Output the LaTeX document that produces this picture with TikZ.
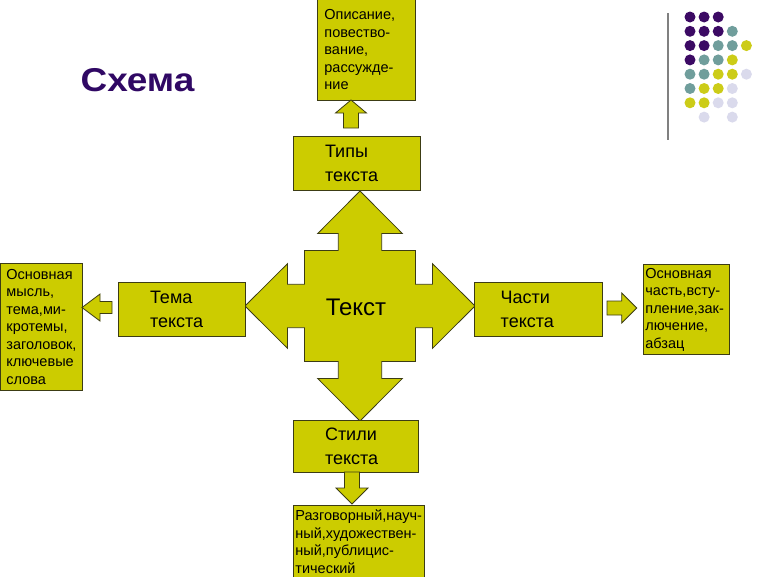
\documentclass[tikz,border=0pt]{standalone}
\usepackage{fontspec}
\setmainfont{Liberation Sans}
\usepackage{tikz}
\usepackage{graphicx}
\lefthyphenmin=62
\definecolor{boxolive}{RGB}{204,204,0}
\definecolor{edgedark}{RGB}{60,60,20}
\definecolor{titlepurple}{RGB}{48,8,100}
\definecolor{dotpurple}{RGB}{60,10,100}
\definecolor{dotteal}{RGB}{112,158,156}
\definecolor{dotyellow}{RGB}{204,204,24}
\definecolor{dotlilac}{RGB}{218,218,236}
\definecolor{rulegray}{RGB}{128,128,128}

% block arrow: tip, angle, length, head length, shaft half, head half
\newcommand{\blockarrow}[6]{%
  \draw[arrowbody, shift={#1}, rotate=#2]
    (0,0) -- (-#4,#6) -- (-#4,#5) -- (-#3,#5) -- (-#3,-#5)
    -- (-#4,-#5) -- (-#4,-#6) -- cycle;}

\begin{document}
\begin{tikzpicture}[
  x=1pt, y=-1pt,
  arrowbody/.style={draw=edgedark, fill=boxolive, line width=0.8pt, line join=miter},
  bigbox/.style={draw=edgedark, fill=boxolive, line width=0.8pt,
                 minimum height=54pt, align=left,
                 font=\fontsize{18}{24}\selectfont},
  smallbox/.style={draw=edgedark, fill=boxolive, line width=0.8pt,
                   anchor=north west, align=left, inner ysep=1pt,
                   font=\fontsize{14.5}{17.5}\selectfont},
]
\useasboundingbox (0,0) rectangle (768,576);

% -------------------------------------------------------------------------
% Title and dot ornament
% -------------------------------------------------------------------------
\node[font=\fontsize{33}{38}\selectfont\bfseries, text=titlepurple]
  (title) at (137.5,80) {\scalebox{1.12}[1]{Схема}};

\draw[rulegray, line width=1.6pt] (668,13) -- (668,140);
\foreach \c/\r/\col in {0/0/dotpurple, 1/0/dotpurple, 2/0/dotpurple,
    0/1/dotpurple, 1/1/dotpurple, 2/1/dotpurple, 3/1/dotteal,
    0/2/dotpurple, 1/2/dotpurple, 2/2/dotteal, 3/2/dotteal, 4/2/dotyellow,
    0/3/dotpurple, 1/3/dotteal, 2/3/dotteal, 3/3/dotyellow,
    0/4/dotteal, 1/4/dotteal, 2/4/dotyellow, 3/4/dotyellow, 4/4/dotlilac,
    0/5/dotteal, 1/5/dotyellow, 2/5/dotyellow, 3/5/dotlilac,
    0/6/dotyellow, 1/6/dotyellow, 2/6/dotlilac, 3/6/dotlilac,
    1/7/dotlilac, 3/7/dotlilac}
  \fill[\col] (690+14.1*\c, 17+14.3*\r) circle (5.5pt);

% -------------------------------------------------------------------------
% Central cross
% -------------------------------------------------------------------------
\draw[arrowbody, shift={(360,306)}]
  (0,-115) -- (42.3,-72.5) -- (21.7,-72.5) -- (21.7,-55.5) -- (55.5,-55.5)
  -- (55.5,-21.7) -- (72.5,-21.7) -- (72.5,-42.3) -- (115,0)
  -- (72.5,42.3) -- (72.5,21.7) -- (55.5,21.7) -- (55.5,55.5)
  -- (21.7,55.5) -- (21.7,72.5) -- (42.3,72.5) -- (0,115)
  -- (-42.3,72.5) -- (-21.7,72.5) -- (-21.7,55.5) -- (-55.5,55.5)
  -- (-55.5,21.7) -- (-72.5,21.7) -- (-72.5,42.3) -- (-115,0)
  -- (-72.5,-42.3) -- (-72.5,-21.7) -- (-55.5,-21.7) -- (-55.5,-55.5)
  -- (-21.7,-55.5) -- (-21.7,-72.5) -- (-42.3,-72.5) -- cycle;
\node[font=\fontsize{24}{28}\selectfont, anchor=base] (centre) at (356,315) {Текст};

% -------------------------------------------------------------------------
% Main boxes
% -------------------------------------------------------------------------
\node[bigbox, inner xsep=32pt, text width=63pt] (types) at (356.5,163.5)
  {Типы\\текста};
\node[bigbox, inner xsep=32pt, text width=63pt] (theme) at (181.5,309)
  {Тема\\текста};
\node[bigbox, inner xsep=26.7pt, text width=74.6pt] (parts) at (538,309)
  {Части\\текста};
\node[bigbox, inner xsep=32pt, text width=61pt, minimum height=52pt]
  (styles) at (355.5,446) {Стили\\текста};

% -------------------------------------------------------------------------
% Detail boxes
% -------------------------------------------------------------------------
\node[smallbox, inner xsep=7pt, text width=84pt, minimum height=101pt]
  (typesdet) at (317,-1)
  {Описание,\\повество-\\вание,\\рассужде-\\ние};
\node[smallbox, inner xsep=6pt, text width=70pt, minimum height=127pt]
  (themedet) at (0,263)
  {Основная\\мысль,\\тема,ми-\\кротемы,\\заголовок,\\ключевые\\слова};
\node[smallbox, inner xsep=2pt, text width=82pt, minimum height=90pt]
  (partsdet) at (643,264)
  {Основная\\часть,всту-\\пление,зак-\\лючение,\\абзац};
\node[smallbox, inner xsep=2pt, text width=127pt, minimum height=73pt]
  (stylesdet) at (293,505)
  {Разговорный,науч-\\ный,художествен-\\ный,публицис-\\тический};

% -------------------------------------------------------------------------
% Small block arrows
% -------------------------------------------------------------------------
\blockarrow{(351,100)}{90}{28}{13}{7.5}{15.5}
\blockarrow{(82,307.5)}{180}{30}{18}{6}{13.5}
\blockarrow{(636.7,308)}{0}{29.7}{15}{7}{15}
\blockarrow{(352,504)}{-90}{32}{16}{7.5}{16}

\end{tikzpicture}
\end{document}
